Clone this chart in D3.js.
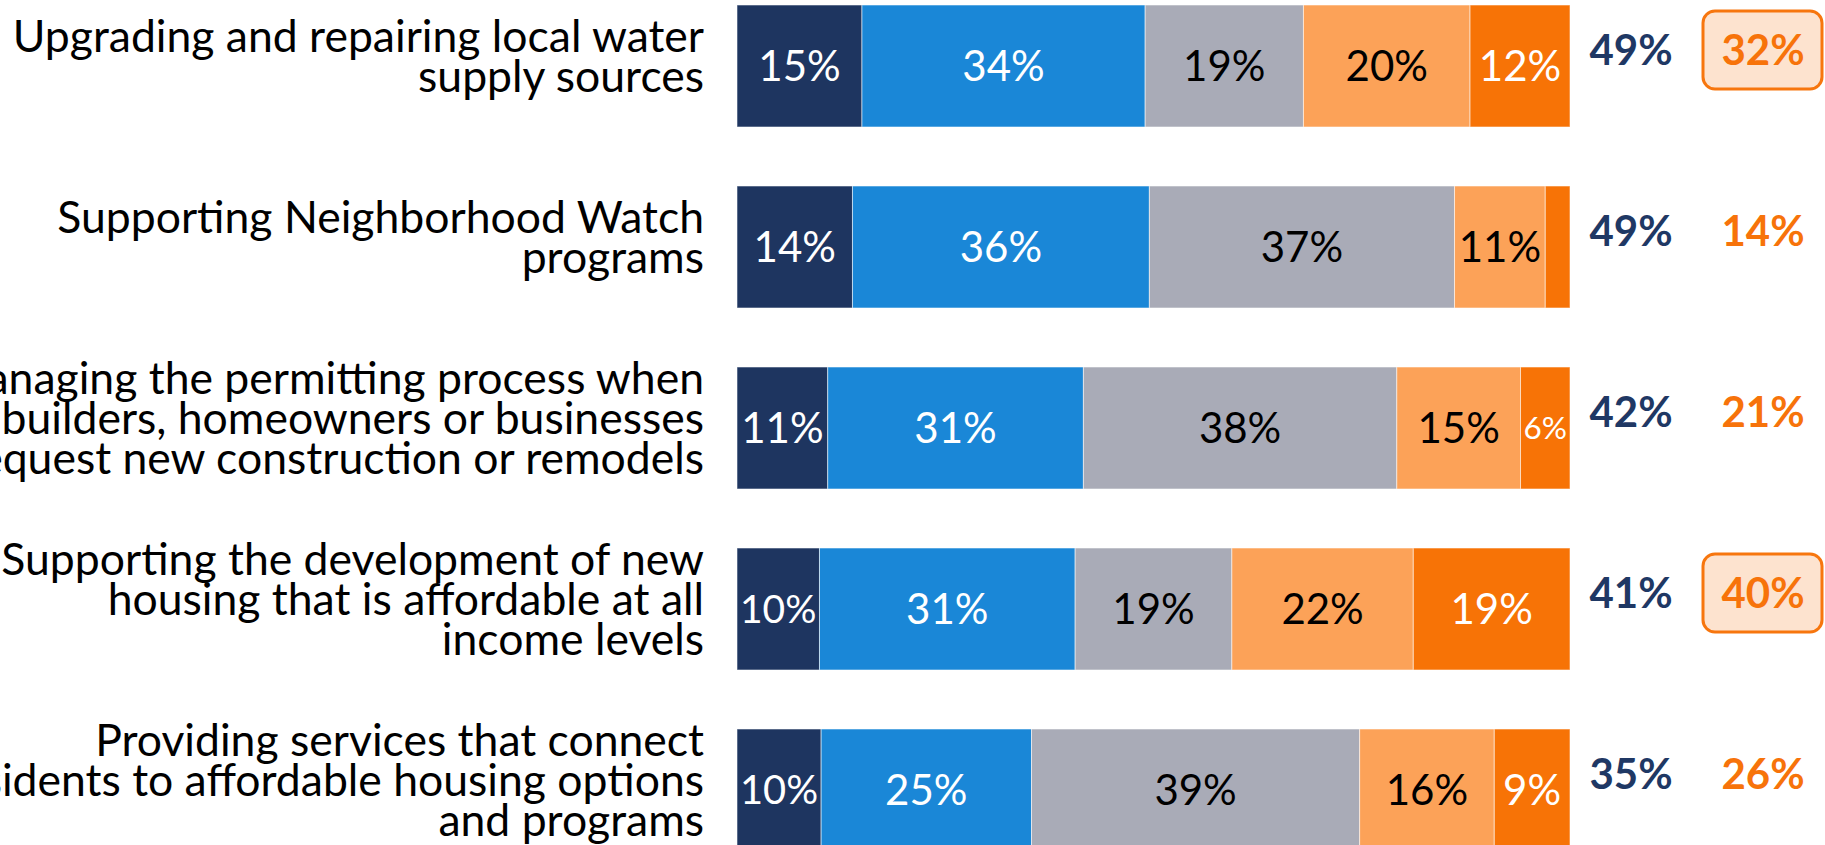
<!DOCTYPE html>
<html>
<head>
<meta charset="utf-8">
<script src="https://d3js.org/d3.v7.min.js"></script>
<style>
  body { margin: 0; background: #fff; }
  svg { display: block; }
</style>
</head>
<body>
<div id="chart"></div>
<script>
// Data
const categories = [
  ["Upgrading and repairing local water", "supply sources"],
  ["Supporting Neighborhood Watch", "programs"],
  ["Managing the permitting process when", "builders, homeowners or businesses", "request new construction or remodels"],
  ["Supporting the development of new", "housing that is affordable at all", "income levels"],
  ["Providing services that connect", "residents to affordable housing options", "and programs"]
]
const strongSupport = [15, 14, 11, 10, 10]
const someSupport = [34, 36, 31, 31, 25]
const neutral = [19, 37, 38, 19, 39]
const someOppose = [20, 11, 15, 22, 16]
const strongOppose = [12, 3, 6, 19, 9]
const totalSupport = [49, 49, 42, 41, 35]
const totalOppose = [32, 14, 21, 40, 26]
const highlighted = [true, false, false, true, false]

const keys = ["strongSupport", "someSupport", "neutral", "someOppose", "strongOppose"]
const colors = ["#1e3560", "#1a87d7", "#a9abb7", "#fca258", "#f77306"]
const labelColors = ["#fff", "#fff", "#000", "#000", "#fff"]

function draw(el) {
  const width = 1825
  const height = 845
  const font = "Lato, 'Open Sans', sans-serif"

  const rows = categories.map((c, i) => ({
    id: i,
    strongSupport: strongSupport[i],
    someSupport: someSupport[i],
    neutral: neutral[i],
    someOppose: someOppose[i],
    strongOppose: strongOppose[i]
  }))

  const svg = d3.select(el)
    .append("svg")
    .attr("width", width)
    .attr("height", height)

  // Scales
  const xScale = d3.scaleLinear()
    .domain([0, 1])
    .range([737, 1570])

  const yScale = d3.scaleBand()
    .domain(rows.map(d => d.id))
    .range([5, 851])
    .paddingInner(59 / 181)
    .paddingOuter(0)

  const series = d3.stack()
    .keys(keys)
    .offset(d3.stackOffsetExpand)(rows)

  // Bars
  const layers = svg.selectAll("g.layer")
    .data(series)
    .join("g")
    .attr("class", "layer")
    .attr("fill", (d, i) => colors[i])

  layers.selectAll("rect")
    .data(d => d)
    .join("rect")
    .attr("x", d => xScale(d[0]))
    .attr("y", d => yScale(d.data.id))
    .attr("width", d => xScale(d[1]) - xScale(d[0]))
    .attr("height", yScale.bandwidth())
    .attr("stroke", "rgba(255,255,255,0.55)")
    .attr("stroke-width", 1)

  // Segment labels
  layers.each(function (s, si) {
    d3.select(this).selectAll("text")
      .data(s.filter(d => d.data[s.key] >= 5))
      .join("text")
      .attr("x", d => (xScale(d[0]) + xScale(d[1])) / 2)
      .attr("y", d => yScale(d.data.id) + yScale.bandwidth() / 2)
      .attr("dy", "0.36em")
      .attr("text-anchor", "middle")
      .attr("font-family", font)
      .attr("font-size", 42)
      .attr("fill", labelColors[si])
      .text(d => d.data[s.key] + "%")
      .each(function (d) {
        const room = xScale(d[1]) - xScale(d[0]) - 6
        const w = this.getComputedTextLength()
        if (w > room) d3.select(this).attr("font-size", 42 * room / w)
      })
  })

  // Category labels
  const lineHeight = 40
  svg.append("g")
    .selectAll("text")
    .data(rows)
    .join("text")
    .attr("text-anchor", "end")
    .attr("font-family", font)
    .attr("font-size", 44.5)
    .attr("fill", "#000")
    .each(function (d) {
      const lines = categories[d.id]
      const cy = yScale(d.id) + yScale.bandwidth() / 2
      d3.select(this).selectAll("tspan")
        .data(lines)
        .join("tspan")
        .attr("x", 704)
        .attr("y", (l, i) => cy + 6 + (i - (lines.length - 1) / 2) * lineHeight)
        .text(l => l)
    })

  // Net totals
  const labelY = d => yScale(d.id) + yScale.bandwidth() / 2 - 16

  svg.append("g")
    .selectAll("rect")
    .data(rows.filter(d => highlighted[d.id]))
    .join("rect")
    .attr("x", 1703)
    .attr("y", d => labelY(d) - 39)
    .attr("width", 119)
    .attr("height", 78)
    .attr("rx", 12)
    .attr("fill", "#fde3cf")
    .attr("stroke", "#f7760e")
    .attr("stroke-width", 3)

  svg.append("g")
    .selectAll("text")
    .data(rows)
    .join("text")
    .attr("x", 1631)
    .attr("y", labelY)
    .attr("dy", "0.36em")
    .attr("text-anchor", "middle")
    .attr("font-family", font)
    .attr("font-weight", "bold")
    .attr("font-size", 42)
    .attr("fill", "#1f3864")
    .text(d => totalSupport[d.id] + "%")

  svg.append("g")
    .selectAll("text")
    .data(rows)
    .join("text")
    .attr("x", 1763)
    .attr("y", labelY)
    .attr("dy", "0.36em")
    .attr("text-anchor", "middle")
    .attr("font-family", font)
    .attr("font-weight", "bold")
    .attr("font-size", 42)
    .attr("fill", "#f7730a")
    .text(d => totalOppose[d.id] + "%")
}

draw("#chart")
</script>
</body>
</html>
